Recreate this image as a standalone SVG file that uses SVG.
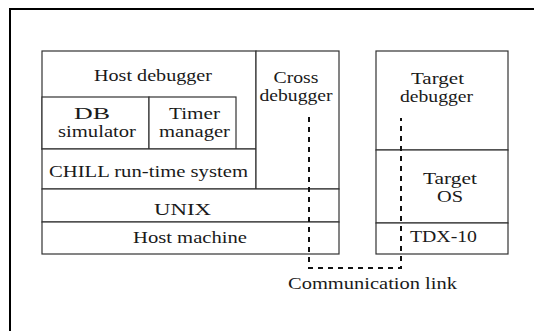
<svg xmlns="http://www.w3.org/2000/svg" width="534" height="331" viewBox="0 0 534 331">
  <style>
    .box { fill: #ffffff; stroke: #333333; stroke-width: 1.2; }
    .lbl { font-family: "Liberation Serif", "Times New Roman", serif; font-size: 17.5px; fill: #1a1a1a; text-anchor: middle; }
    .link { fill: none; stroke: #111111; stroke-width: 2; stroke-dasharray: 5 5; }
  </style>
  <rect width="534" height="331" fill="#ffffff"/>
  <!-- outer frame -->
  <path d="M10 331 V9 H534" fill="none" stroke="#000000" stroke-width="2"/>

  <!-- host stack -->
  <g id="host-debugger">
    <rect class="box" x="42" y="51" width="214" height="98"/>
    <text class="lbl" x="153" y="81" textLength="118" lengthAdjust="spacingAndGlyphs">Host debugger</text>
  </g>
  <g id="db-simulator">
    <rect class="box" x="42" y="97" width="107" height="52"/>
    <text class="lbl" x="92" y="119" textLength="36" lengthAdjust="spacingAndGlyphs">DB</text>
    <text class="lbl" x="97" y="137" textLength="78" lengthAdjust="spacingAndGlyphs">simulator</text>
  </g>
  <g id="timer-manager">
    <rect class="box" x="149" y="97" width="87" height="52"/>
    <text class="lbl" x="194.5" y="119" textLength="51" lengthAdjust="spacingAndGlyphs">Timer</text>
    <text class="lbl" x="194.5" y="137" textLength="71" lengthAdjust="spacingAndGlyphs">manager</text>
  </g>
  <g id="chill-runtime">
    <rect class="box" x="42" y="149" width="214" height="40"/>
    <text class="lbl" x="148.5" y="177" textLength="199" lengthAdjust="spacingAndGlyphs">CHILL run-time system</text>
  </g>
  <g id="cross-debugger">
    <rect class="box" x="256" y="51" width="83" height="138"/>
    <text class="lbl" x="296" y="83" textLength="45" lengthAdjust="spacingAndGlyphs">Cross</text>
    <text class="lbl" x="296" y="101" textLength="73" lengthAdjust="spacingAndGlyphs">debugger</text>
  </g>
  <g id="unix">
    <rect class="box" x="42" y="189" width="297" height="33"/>
    <text class="lbl" x="182.5" y="215" textLength="57" lengthAdjust="spacingAndGlyphs">UNIX</text>
  </g>
  <g id="host-machine">
    <rect class="box" x="42" y="222" width="297" height="32"/>
    <text class="lbl" x="190" y="243" textLength="114" lengthAdjust="spacingAndGlyphs">Host machine</text>
  </g>

  <!-- target stack -->
  <g id="target-debugger">
    <rect class="box" x="376" y="51" width="132" height="99"/>
    <text class="lbl" x="437.5" y="84" textLength="53" lengthAdjust="spacingAndGlyphs">Target</text>
    <text class="lbl" x="436.5" y="102" textLength="73" lengthAdjust="spacingAndGlyphs">debugger</text>
  </g>
  <g id="target-os">
    <rect class="box" x="376" y="150" width="132" height="73"/>
    <text class="lbl" x="450" y="184" textLength="54" lengthAdjust="spacingAndGlyphs">Target</text>
    <text class="lbl" x="450" y="202" textLength="26" lengthAdjust="spacingAndGlyphs">OS</text>
  </g>
  <g id="tdx-10">
    <rect class="box" x="376" y="223" width="132" height="31"/>
    <text class="lbl" x="443.5" y="242" textLength="67" lengthAdjust="spacingAndGlyphs">TDX-10</text>
  </g>

  <!-- connectors -->
  <g id="connectors">
    <path class="link" d="M309 117 V268 H401 V118"/>
  </g>
  <text class="lbl" x="372.5" y="288.5" textLength="169" lengthAdjust="spacingAndGlyphs">Communication link</text>
</svg>
